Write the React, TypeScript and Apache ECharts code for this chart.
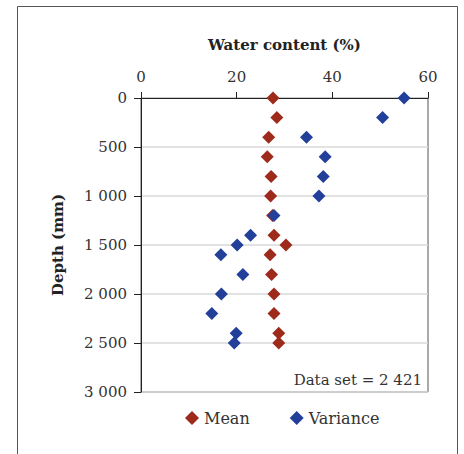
import React, { useEffect, useRef } from "react";
import * as echarts from "echarts";

const depths = [0, 200, 400, 600, 800, 1000, 1200, 1400, 1500, 1600, 1800, 2000, 2200, 2400, 2500];
const meanValues = [27.6, 28.4, 26.7, 26.4, 27.2, 27.1, 27.5, 27.8, 30.3, 27.0, 27.3, 27.8, 27.8, 28.8, 28.8];
const varianceValues = [55.0, 50.5, 34.6, 38.5, 38.1, 37.2, 27.8, 22.9, 20.1, 16.7, 21.3, 16.8, 14.8, 19.9, 19.5];
const seriesNames = ["Mean", "Variance"];
const annotation = "Data set = 2 421";

const FONT = "DejaVu Serif";

export default function App() {
  const ref = useRef<HTMLDivElement>(null);
  useEffect(() => {
    if (!ref.current) return;
    const chart = echarts.init(ref.current, undefined, { renderer: "svg" });
    const fmt = (v: number) => String(v).replace(/\B(?=(\d{3})+(?!\d))/g, " ");
    chart.setOption({
      animation: false,
      backgroundColor: "#fff",
      textStyle: { fontFamily: FONT },
      grid: {
        left: 141, top: 98, width: 287, height: 294,
        show: true, borderColor: "#555", borderWidth: 1, backgroundColor: "transparent",
      },
      xAxis: {
        type: "value", position: "top", min: 0, max: 60, interval: 20,
        name: "Water content (%)", nameLocation: "middle", nameGap: 46,
        nameTextStyle: { fontFamily: FONT, fontSize: 15, fontWeight: "bold", color: "#222" },
        axisLine: { show: true, lineStyle: { color: "#222", width: 1 } },
        axisTick: { show: true, length: 6, lineStyle: { color: "#222" } },
        axisLabel: { fontFamily: FONT, fontSize: 15, color: "#333", margin: 14 },
        splitLine: { show: false },
      },
      yAxis: {
        type: "value", inverse: true, min: 0, max: 3000, interval: 500,
        name: "Depth (mm)", nameLocation: "middle", nameGap: 76,
        nameTextStyle: { fontFamily: FONT, fontSize: 15, fontWeight: "bold", color: "#222" },
        axisLine: { show: true, lineStyle: { color: "#222", width: 1 } },
        axisTick: { show: true, length: 7, lineStyle: { color: "#222" } },
        axisLabel: { fontFamily: FONT, fontSize: 15, color: "#333", margin: 14, formatter: fmt },
        splitLine: { show: true, lineStyle: { color: "#d9d9d9", width: 1.5 } },
      },
      legend: {
        left: 180, top: 405, itemWidth: 14, itemHeight: 14, itemGap: 40,
        icon: "diamond",
        textStyle: { fontFamily: FONT, fontSize: 16, color: "#333" },
        data: seriesNames,
      },
      series: [
        {
          name: seriesNames[0], type: "scatter", symbol: "diamond", symbolSize: 13,
          itemStyle: { color: "#9E2A1B", opacity: 1 },
          data: meanValues.map((v, i) => [v, depths[i]]),
        },
        {
          name: seriesNames[1], type: "scatter", symbol: "diamond", symbolSize: 13,
          itemStyle: { color: "#22409A", opacity: 1 },
          data: varianceValues.map((v, i) => [v, depths[i]]),
        },
      ],
      graphic: [
        {
          type: "rect", silent: true,
          shape: { x: 17.5, y: 6.5, width: 440, height: 460 },
          style: { fill: "none", stroke: "#555", lineWidth: 1 },
        },
        {
          type: "text", right: 42, top: 372,
          style: { text: annotation, font: `15px "${FONT}"`, fill: "#333" },
        },
      ],
    });
    return () => chart.dispose();
  }, []);
  return <div ref={ref} style={{ position: "absolute", left: 0, top: 0, width: 464, height: 454 }} />;
}
